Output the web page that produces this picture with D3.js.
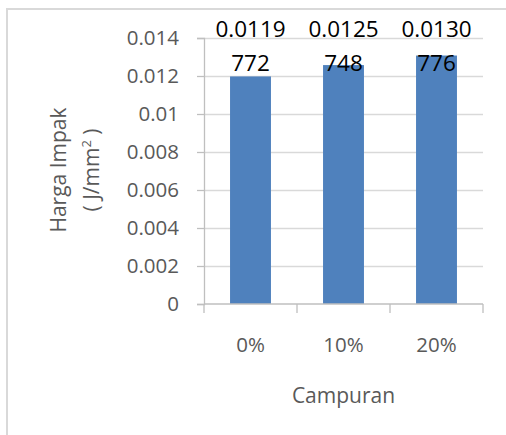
<!DOCTYPE html>
<html>
<head>
<meta charset="utf-8">
<script src="https://cdn.jsdelivr.net/npm/d3@7"></script>
<style>
  body { margin: 0; background: #fff; }
  text { font-family: "Open Sans", "Liberation Sans", sans-serif; }
</style>
</head>
<body>
<svg id="chart" width="506" height="435"></svg>
<script>
// chart data
var categories = ["0%", "10%", "20%"];
var values = [0.0119772, 0.0125748, 0.0130776];
var yTicks = [0, 0.002, 0.004, 0.006, 0.008, 0.01, 0.012, 0.014];

var svg = d3.select("#chart"),
	width = +svg.attr("width"),
	height = +svg.attr("height");

var margin = {left: 204, right: 23, top: 38, bottom: 131};

// outer frame of the chart box
svg.append("path")
	.attr("d", "M7," + height + "V9H" + width)
	.attr("fill", "none")
	.attr("stroke", "#d9d9d9")
	.attr("stroke-width", 2);

var x = d3.scaleBand()
	.domain(categories)
	.range([margin.left, width - margin.right])
	.paddingInner(0.56)
	.paddingOuter(0.28);

var y = d3.scaleLinear()
	.domain([0, 0.014])
	.range([height - margin.bottom, margin.top]);

var g = svg.append("g");

// gridlines
g.selectAll(".grid")
	.data(yTicks.slice(1))
	.enter().append("line")
		.attr("x1", margin.left)
		.attr("x2", width - margin.right)
		.attr("y1", function(d) { return Math.round(y(d)) + 0.5; })
		.attr("y2", function(d) { return Math.round(y(d)) + 0.5; })
		.attr("stroke", "#d9d9d9")
		.attr("stroke-width", 1.3);

// bars
g.selectAll(".bar")
	.data(values)
	.enter().append("rect")
		.attr("x", function(d, i) { return x(categories[i]); })
		.attr("y", function(d) { return y(d); })
		.attr("width", x.bandwidth())
		.attr("height", function(d) { return y(0) - y(d); })
		.attr("fill", "#4f81bd");

// y axis
var yAxis = g.append("g")
	.attr("transform", "translate(" + margin.left + ",0)")
	.call(d3.axisLeft(y).tickValues(yTicks).tickSize(7).tickPadding(18)
		.tickFormat(function(d) { return String(+d.toFixed(3)); }));
yAxis.select(".domain").attr("stroke", "#bfbfbf").attr("stroke-width", 1.3);
yAxis.selectAll(".tick line").attr("stroke", "#bfbfbf").attr("stroke-width", 1.3);
yAxis.selectAll(".tick text")
	.attr("fill", "#595959")
	.style("font-size", "20.5px")
	.style("font-family", "'Open Sans', sans-serif");

// x axis with ticks between categories
var xAxis = g.append("g")
	.attr("transform", "translate(0," + y(0) + ")");
xAxis.append("line")
	.attr("x1", margin.left).attr("x2", width - margin.right)
	.attr("stroke", "#bfbfbf").attr("stroke-width", 1.3);
var edges = categories.map(function(c) { return x(c) - x.step() * x.paddingInner() / 2; });
edges.push(width - margin.right);
xAxis.selectAll(".xtick")
	.data(edges)
	.enter().append("line")
		.attr("x1", function(d) { return d; })
		.attr("x2", function(d) { return d; })
		.attr("y1", 0).attr("y2", 9)
		.attr("stroke", "#bfbfbf").attr("stroke-width", 1.3);
xAxis.selectAll(".xlabel")
	.data(categories)
	.enter().append("text")
		.attr("x", function(d) { return x(d) + x.bandwidth() / 2; })
		.attr("y", 48)
		.attr("text-anchor", "middle")
		.attr("fill", "#595959")
		.style("font-size", "20.5px")
		.text(function(d) { return d; });

// data labels, wrapped over two lines
var labels = g.selectAll(".label")
	.data(values)
	.enter().append("text")
		.attr("text-anchor", "middle")
		.attr("fill", "#000")
		.style("font-size", "22.5px");
labels.append("tspan")
	.attr("x", function(d, i) { return x(categories[i]) + x.bandwidth() / 2; })
	.attr("y", y(0.014) - 1)
	.text(function(d) { return String(d).slice(0, 6); });
labels.append("tspan")
	.attr("x", function(d, i) { return x(categories[i]) + x.bandwidth() / 2; })
	.attr("y", y(0.014) + 33)
	.text(function(d) { return String(d).slice(6); });

// axis titles
var yTitle = svg.append("text")
	.attr("transform", "translate(58,170) rotate(-90)")
	.attr("text-anchor", "middle")
	.attr("fill", "#595959")
	.style("font-size", "21px");
yTitle.append("tspan").attr("x", 0).attr("y", 8).text("Harga Impak");
var t2 = yTitle.append("tspan").attr("x", 0).attr("y", 41);
t2.append("tspan").text("( J/mm");
t2.append("tspan").attr("dy", -8).style("font-size", "13px").text("2");
t2.append("tspan").attr("dy", 8).text(" )");

svg.append("text")
	.attr("x", (margin.left + width - margin.right) / 2)
	.attr("y", 403)
	.attr("text-anchor", "middle")
	.attr("fill", "#595959")
	.style("font-size", "21px")
	.text("Campuran");
</script>
</body>
</html>
